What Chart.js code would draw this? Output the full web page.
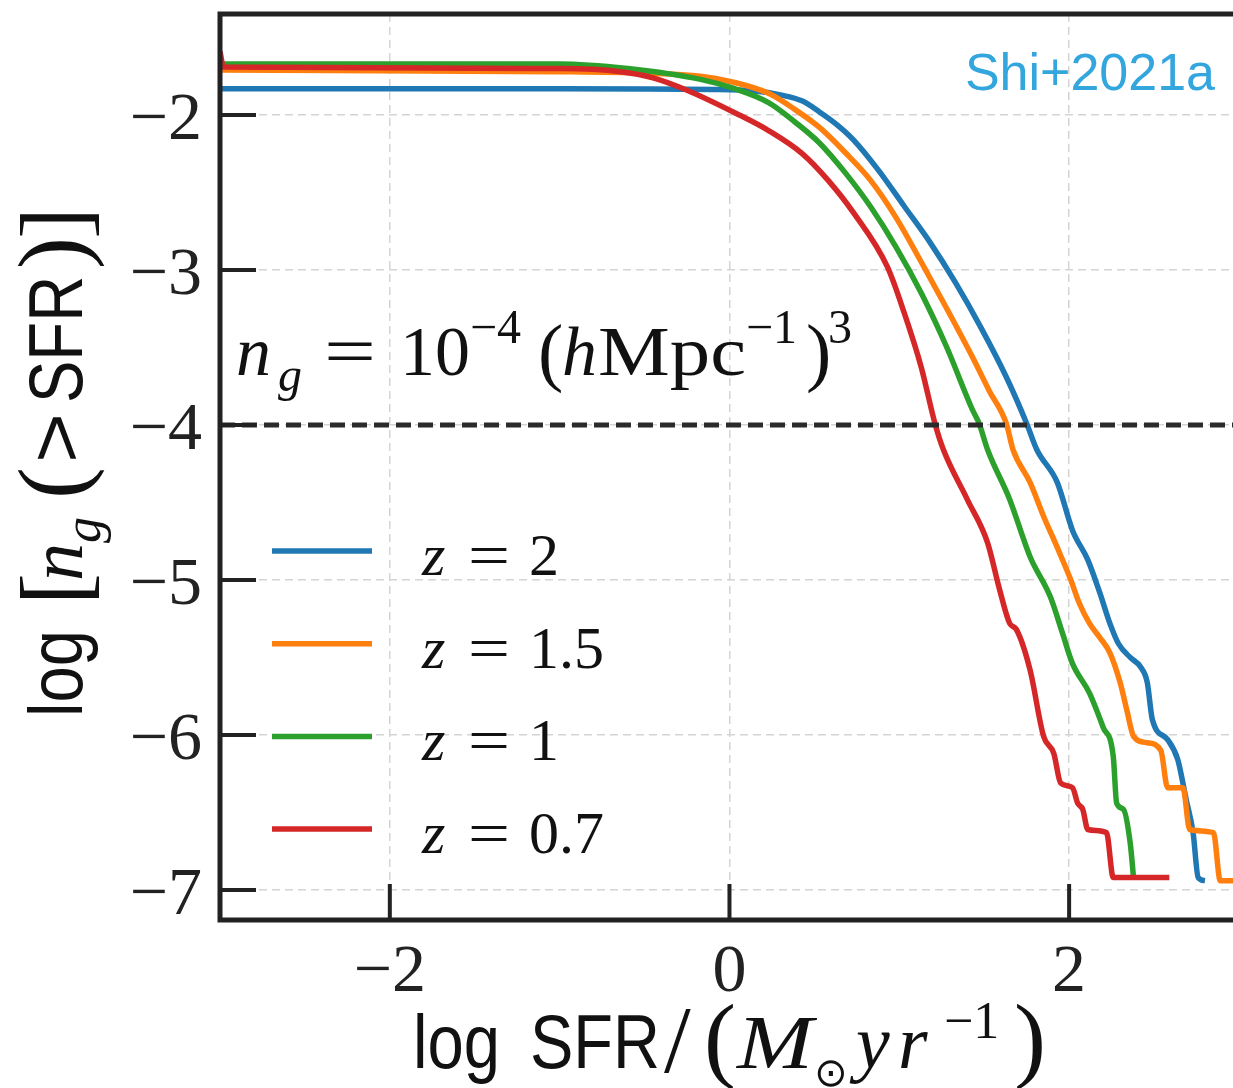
<!DOCTYPE html>
<html>
<head>
<meta charset="utf-8">
<script src="https://cdn.jsdelivr.net/npm/chart.js@4.4.1/dist/chart.umd.min.js"></script>
<style>
  html, body { margin: 0; padding: 0; background: #ffffff; }
  canvas { display: block; }
</style>
</head>
<body>
<canvas id="c" width="1233" height="1088"></canvas>
<script>
// ---------------- data ----------------
const xTicks = [-2, 0, 2];
const yTicks = [-7, -6, -5, -4, -3, -2];
const refLevel = -4;               // n_g = 1e-4 (h/Mpc)^3
const seriesLabels = ['z = 2', 'z = 1.5', 'z = 1', 'z = 0.7'];
const zValues = ['2', '1.5', '1', '0.7'];
const seriesColors = ['#1f77b4', '#ff7f0e', '#2ca02c', '#d62728'];

const z20x = [-3, -1, -0.1, 0.15, 0.3, 0.43, 0.53, 0.63, 0.73, 0.88, 1.03, 1.18, 1.33, 1.48, 1.63, 1.75, 1.81, 1.93, 2.02, 2.11, 2.18, 2.24, 2.29, 2.36, 2.42, 2.46, 2.49, 2.58, 2.64, 2.67, 2.69, 2.73, 2.76, 2.80];
const z20y = [-1.83, -1.83, -1.835, -1.845, -1.87, -1.91, -1.98, -2.06, -2.16, -2.36, -2.59, -2.82, -3.08, -3.37, -3.69, -3.99, -4.16, -4.37, -4.68, -4.87, -5.08, -5.28, -5.41, -5.50, -5.56, -5.66, -5.90, -6.03, -6.16, -6.31, -6.42, -6.63, -6.92, -6.94];

const z15x = [-3, -1, -0.5, -0.17, 0.03, 0.23, 0.38, 0.53, 0.68, 0.83, 0.98, 1.13, 1.28, 1.43, 1.53, 1.63, 1.67, 1.77, 1.85, 1.93, 2.01, 2.06, 2.12, 2.18, 2.24, 2.30, 2.34, 2.38, 2.46, 2.54, 2.58, 2.67, 2.71, 2.85, 2.89, 2.97];
const z15y = [-1.71, -1.72, -1.73, -1.75, -1.79, -1.86, -1.96, -2.08, -2.24, -2.42, -2.66, -2.95, -3.25, -3.56, -3.78, -3.99, -4.16, -4.37, -4.59, -4.79, -5.00, -5.15, -5.28, -5.37, -5.47, -5.66, -5.84, -6.01, -6.05, -6.10, -6.34, -6.34, -6.61, -6.63, -6.94, -6.94];

const z10x = [-3, -1, -0.6, -0.17, 0.03, 0.23, 0.38, 0.53, 0.68, 0.83, 0.98, 1.13, 1.28, 1.43, 1.47, 1.52, 1.65, 1.77, 1.89, 1.96, 2.02, 2.12, 2.20, 2.26, 2.28, 2.32, 2.36, 2.38];
const z10y = [-1.67, -1.67, -1.70, -1.77, -1.83, -1.92, -2.04, -2.18, -2.37, -2.59, -2.85, -3.15, -3.50, -3.90, -3.99, -4.16, -4.48, -4.85, -5.11, -5.34, -5.54, -5.73, -5.95, -6.14, -6.44, -6.48, -6.70, -6.93];

const z07x = [-3, -2.98, -1, -0.64, -0.45, -0.25, 0.04, 0.23, 0.43, 0.58, 0.73, 0.93, 1.03, 1.13, 1.21, 1.26, 1.40, 1.52, 1.59, 1.65, 1.69, 1.77, 1.85, 1.91, 1.95, 2.02, 2.05, 2.08, 2.11, 2.22, 2.26, 2.59];
const z07y = [-1.59, -1.69, -1.70, -1.72, -1.76, -1.84, -1.99, -2.10, -2.25, -2.42, -2.63, -2.98, -3.28, -3.63, -3.99, -4.16, -4.48, -4.76, -5.06, -5.28, -5.32, -5.58, -6.01, -6.12, -6.31, -6.34, -6.44, -6.48, -6.61, -6.63, -6.92, -6.92];

const seriesX = [z20x, z15x, z10x, z07x];
const seriesY = [z20y, z15y, z10y, z07y];

// ---------------- helpers ----------------
const SERIF = '"Liberation Serif", "DejaVu Serif", serif';
const SANS = '"Liberation Sans", "DejaVu Sans", sans-serif';
const fmt = v => (v < 0 ? '\u2212' + Math.abs(v) : String(v));
const pts = (xs, ys) => xs.map((x, i) => ({ x: x, y: ys[i] }));

function txt(ctx, s, x, y, font, fitW) {
  ctx.save();
  ctx.font = font;
  ctx.translate(x, y);
  if (fitW) {
    const w = ctx.measureText(s).width;
    ctx.scale(fitW / w, 1);
  }
  ctx.fillText(s, 0, 0);
  ctx.restore();
}

const decor = {
  id: 'decor',
  afterDatasetsDraw(chart) {
    const ctx = chart.ctx;
    const a = chart.chartArea;
    const xs = chart.scales.x, ys = chart.scales.y;
    ctx.save();
    ctx.fillStyle = '#111';
    ctx.strokeStyle = '#222';
    ctx.textBaseline = 'alphabetic';
    ctx.textAlign = 'left';

    // frame (left, top, bottom)
    ctx.lineWidth = 5;
    ctx.lineCap = 'square';
    ctx.beginPath();
    ctx.moveTo(a.right + 5, a.top); ctx.lineTo(a.left, a.top);
    ctx.lineTo(a.left, a.bottom); ctx.lineTo(a.right + 5, a.bottom);
    ctx.stroke();

    // inward ticks
    ctx.lineWidth = 4;
    ctx.lineCap = 'butt';
    yTicks.forEach(v => {
      const p = ys.getPixelForValue(v);
      ctx.beginPath(); ctx.moveTo(a.left, p); ctx.lineTo(a.left + 36, p); ctx.stroke();
    });
    xTicks.forEach(v => {
      const p = xs.getPixelForValue(v);
      ctx.beginPath(); ctx.moveTo(p, a.bottom); ctx.lineTo(p, a.bottom - 36); ctx.stroke();
    });

    // legend
    chart.data.datasets.slice(0, 4).forEach((ds, i) => {
      const yy = 551 + i * 92.7;
      ctx.strokeStyle = ds.borderColor;
      ctx.lineWidth = 5.5;
      ctx.beginPath(); ctx.moveTo(272, yy); ctx.lineTo(372, yy); ctx.stroke();
      ctx.fillStyle = '#111';
      txt(ctx, 'z', 422, yy + 24, 'italic 60px ' + SERIF);
      txt(ctx, '=', 468, yy + 24, '60px ' + SERIF, 42);
      txt(ctx, zValues[i], 529, yy + 24, '60px ' + SERIF);
    });

    // annotation n_g = 10^-4 (h Mpc^-1)^3
    const B = 375;
    txt(ctx, 'n', 236, B, 'italic 70px ' + SERIF);
    txt(ctx, 'g', 278, B + 16, 'italic 48px ' + SERIF);
    txt(ctx, '=', 324, B, '70px ' + SERIF, 52);
    txt(ctx, '10', 400, B, '70px ' + SERIF);
    txt(ctx, '\u22124', 470, B - 32, '48px ' + SERIF);
    txt(ctx, '(', 538, B + 2, '76px ' + SERIF);
    txt(ctx, 'h', 562, B, 'italic 70px ' + SERIF);
    txt(ctx, 'Mpc', 598, B, '70px ' + SERIF, 148);
    txt(ctx, '\u22121', 746, B - 32, '48px ' + SERIF);
    txt(ctx, ')', 806, B + 2, '76px ' + SERIF);
    txt(ctx, '3', 828, B - 32, '48px ' + SERIF);

    // credit
    ctx.fillStyle = '#34a6de';
    ctx.textAlign = 'right';
    ctx.font = '52px ' + SANS;
    ctx.fillText('Shi+2021a', 1215, 90);
    ctx.textAlign = 'left';
    ctx.fillStyle = '#111';

    // x-axis title
    const XB = 1068;
    txt(ctx, 'log', 413, XB, '76px ' + SANS, 87);
    txt(ctx, 'SFR', 530, XB, '76px ' + SANS, 130);
    txt(ctx, '/', 664, XB + 4, '96px ' + SERIF);
    txt(ctx, '(', 704, XB + 2, '96px ' + SERIF);
    txt(ctx, 'M', 737, XB, 'italic 76px ' + SERIF, 76);
    txt(ctx, '\u2299', 814, XB + 18, '40px "DejaVu Sans", sans-serif');
    txt(ctx, 'y', 856, XB, 'italic 76px ' + SERIF);
    txt(ctx, 'r', 898, XB, 'italic 76px ' + SERIF);
    txt(ctx, '\u22121', 944, XB - 30, '52px ' + SERIF);
    txt(ctx, ')', 1014, XB + 2, '96px ' + SERIF);

    // y-axis title (rotated)
    ctx.save();
    ctx.translate(82, 717);
    ctx.rotate(-Math.PI / 2);
    txt(ctx, 'log', 0, 0, '76px ' + SANS, 87);
    txt(ctx, '[', 112, 4, '96px ' + SERIF);
    txt(ctx, 'n', 136, 0, 'italic 76px ' + SERIF);
    txt(ctx, 'g', 174, 18, 'italic 52px ' + SERIF);
    txt(ctx, '(', 218, 2, '96px ' + SERIF);
    txt(ctx, '>', 254, 0, '76px ' + SANS, 50);
    txt(ctx, 'SFR', 314, 0, '76px ' + SANS, 127);
    txt(ctx, ')', 448, 2, '96px ' + SERIF);
    txt(ctx, ']', 478, 4, '96px ' + SERIF);
    ctx.restore();

    ctx.restore();
  }
};

const datasets = seriesX.map((xs, i) => ({
  label: seriesLabels[i],
  data: pts(xs, seriesY[i]),
  borderColor: seriesColors[i],
  borderWidth: 5.5,
  pointRadius: 0,
  cubicInterpolationMode: 'monotone',
  borderJoinStyle: 'round',
  order: 4 - i
}));
datasets.push({
  label: 'ref',
  data: [{ x: -3, y: refLevel }, { x: 3, y: refLevel }],
  borderColor: '#2b2b2b',
  borderWidth: 5,
  borderDash: [15, 7],
  pointRadius: 0,
  order: 0
});

new Chart(document.getElementById('c'), {
  type: 'line',
  data: { datasets: datasets },
  options: {
    responsive: false,
    animation: false,
    layout: { padding: { top: 14, right: 0, left: 0, bottom: 0 } },
    plugins: { legend: { display: false }, tooltip: { enabled: false } },
    scales: {
      x: {
        type: 'linear', min: -3, max: 2.965,
        afterBuildTicks: s => { s.ticks = xTicks.map(v => ({ value: v })); },
        afterFit: s => { s.height = 168; s.paddingLeft = 0; s.paddingRight = 0; },
        grid: { color: '#d4d4d4', lineWidth: 1.5, drawTicks: false },
        border: { display: false, dash: [8, 5] },
        ticks: { font: { family: SERIF, size: 68 }, color: '#222', padding: 12, maxRotation: 0, callback: v => fmt(v) }
      },
      y: {
        type: 'linear', min: -7.194, max: -1.348,
        afterBuildTicks: s => { s.ticks = yTicks.map(v => ({ value: v })); },
        afterFit: s => { s.width = 220; s.paddingTop = 0; s.paddingBottom = 0; },
        grid: { color: '#d4d4d4', lineWidth: 1.5, drawTicks: false },
        border: { display: false, dash: [8, 5] },
        ticks: { font: { family: SERIF, size: 68 }, color: '#222', padding: 18, labelOffset: 6, callback: v => fmt(v) }
      }
    }
  },
  plugins: [decor]
});
</script>
</body>
</html>
